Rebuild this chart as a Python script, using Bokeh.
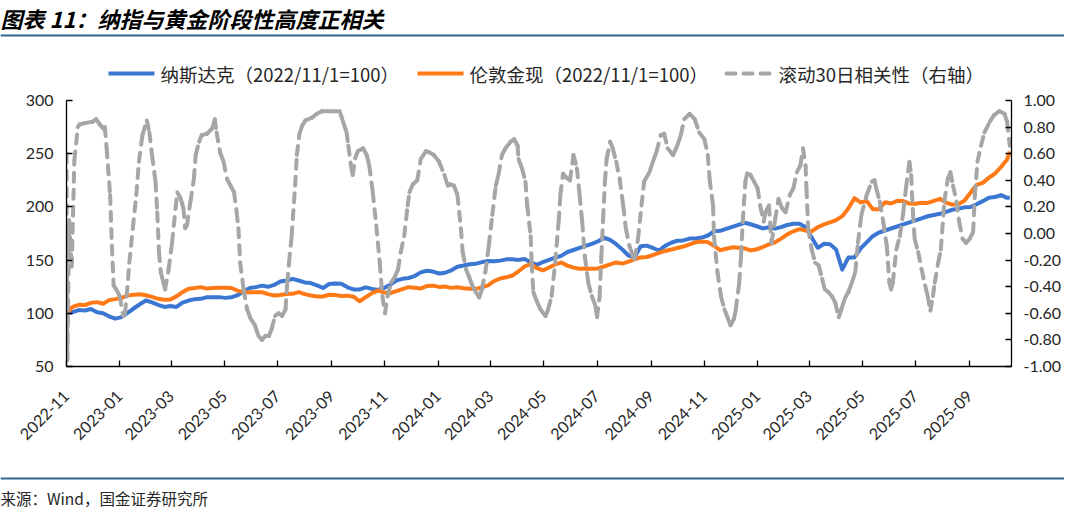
import pandas as pd
from bokeh.plotting import figure
from bokeh.layouts import column
from bokeh.models import (Range1d, LinearAxis, FixedTicker, NumeralTickFormatter,
                          DatetimeTickFormatter, ColumnDataSource)
from bokeh.core.properties import value
from bokeh.embed import file_html
from bokeh.resources import INLINE

# ---------------- data ----------------
title_text = "图表 11：纳指与黄金阶段性高度正相关"
source_text = "来源：Wind，国金证券研究所"
name_nasdaq = "纳斯达克（2022/11/1=100）"
name_gold = "伦敦金现（2022/11/1=100）"
name_corr = "滚动30日相关性（右轴）"

# weekly observation dates (2022-11-01 + 7k) and the last observation
idx_dates = list(pd.date_range("2022-11-01", periods=155, freq="7D")) + [pd.Timestamp("2025-10-17")]

nasdaq = [100, 101, 103, 102.6, 104, 101, 100, 97, 95, 96.4,
          100.5, 104.5, 108.5, 112, 110.2, 108, 106, 106.8, 106, 110,
          112, 113.3, 113.6, 115.2, 115.2, 115.2, 114.5, 115, 117, 120.7,
          123.8, 124.6, 126, 124.9, 126.7, 129.8, 130.8, 132.3,
          130.8, 129, 128.4, 126.2, 123.8, 127.5, 128.1, 127.7, 124.4, 122.4,
          122.4, 124.4, 122.9, 121.9, 123.8, 126.9, 130.8, 132.4, 133.2, 135,
          138.5, 140, 139.2, 137.4, 138.1, 140.4, 143.8, 144.9, 146.1, 146.5,
          148.1, 149.1, 149, 149.5, 150.7, 150.7, 150.2, 151.1, 148,
          145.5,
          148.2, 150.2, 152.2, 154, 157.6, 159.5, 161.4, 163.3, 165.3, 167.5,
          171, 169, 165, 160, 154.3, 152.6, 163, 163.6, 161.4, 159,
          163.4, 166.3, 168.2, 168.5, 170.2, 170.3, 171.2, 173.1, 177, 177.5,
          179.4, 181.3, 183.2, 185.1, 183.7, 181.8, 179.8, 180.9, 179.6,
          181, 183, 184.1, 184.1, 181, 171.3, 161.5, 165.3, 165, 160,
          141, 152.4, 152.5, 160.9, 166.6, 172.5, 175.9, 177.8, 179.7, 181.6,
          183.6, 185.4, 187.4, 189.3, 191.2, 192.4, 193.5, 195.4, 197.3, 198.2,
          199.6, 199.9, 202.5, 205.4, 208.7, 209.2, 211.1, 208.5,
          208.5]

gold = [100, 106, 108, 107.7, 109.8, 110.5, 109, 112.4, 113.3, 114.5,
        116.6, 117.5, 117.9, 117, 115.4, 113.6, 112.7, 112.9, 115.9, 119.9,
        123, 123.7, 124.6, 123.2, 123.7, 124, 124, 123.8, 121.3, 119.9,
        119.9, 119.9, 119.9, 118, 116.7, 117.2, 118.2, 118.3,
        119.9, 118, 116.7, 115.7, 115.8, 117.4, 117.1, 116.3, 116.6, 115.6,
        111.3, 115.2, 119, 121.4, 119.6, 118.9, 120.9, 122.8, 124.6, 124.1,
        123.4, 125.6, 126, 124.8, 125.1, 123.9, 124.5, 123.5, 123, 123,
        124.4, 126.2, 130.3, 132.7, 133.8, 135.5, 139.5, 144, 146.5,
        142.5,
        140.4, 143, 145.9, 147.7, 144.8, 142.9, 141.8, 142.2, 141.8, 142.1,
        144, 146, 147.8, 146.7, 148.5, 150.6, 152.5, 152.9, 154.7, 156.7,
        158.6, 159.9, 161.4, 162.8, 164.7, 166.7, 167.5, 166.9, 163.5, 159.3,
        160.6, 162, 161.7, 161.1, 159.1, 160.2, 162.3, 164.7, 166.7,
        170.2, 174.2, 177.1, 179.1, 177.8, 176.9, 180.9, 183.6, 185.5, 187.6,
        191.3, 198.5, 208.2, 204.2, 205.7, 197.9, 197.8, 204.4, 203.2, 205.7,
        205.5, 203.1, 202.9, 203.9, 203.7, 205.7, 207.6, 204, 202.2, 202.5,
        205.8, 213.3, 220.7, 222.6, 227.4, 231.3, 237.5, 244.6,
        252]

corr_dates = ["2022-11-01", "2022-11-02", "2022-11-04", "2022-11-07", "2022-11-10", "2022-11-14",
              "2022-11-16", "2022-11-22", "2022-12-01", "2022-12-05", "2022-12-09", "2022-12-13",
              "2022-12-15", "2022-12-17", "2022-12-21", "2022-12-23", "2022-12-25", "2022-12-28",
              "2023-01-01", "2023-01-05", "2023-01-07", "2023-01-09", "2023-01-12", "2023-01-16",
              "2023-01-20", "2023-01-23", "2023-01-27", "2023-02-01", "2023-02-04", "2023-02-07",
              "2023-02-11", "2023-02-13", "2023-02-15", "2023-02-17", "2023-02-20", "2023-02-22",
              "2023-02-26", "2023-03-02", "2023-03-06", "2023-03-08", "2023-03-12", "2023-03-15",
              "2023-03-17", "2023-03-19", "2023-03-23", "2023-03-27", "2023-03-29", "2023-04-02",
              "2023-04-05", "2023-04-11", "2023-04-17", "2023-04-20", "2023-04-22", "2023-04-26",
              "2023-04-30", "2023-05-04", "2023-05-08", "2023-05-12", "2023-05-15", "2023-05-17",
              "2023-05-19", "2023-05-23", "2023-05-27", "2023-05-31", "2023-06-05", "2023-06-09",
              "2023-06-13", "2023-06-17", "2023-06-21", "2023-06-24", "2023-06-28", "2023-07-02",
              "2023-07-06", "2023-07-10", "2023-07-12", "2023-07-14", "2023-07-17", "2023-07-21",
              "2023-07-23", "2023-07-26", "2023-07-29", "2023-08-02", "2023-08-09", "2023-08-15",
              "2023-08-21", "2023-08-28", "2023-09-10", "2023-09-14", "2023-09-18", "2023-09-20",
              "2023-09-23", "2023-09-25", "2023-09-28", "2023-10-01", "2023-10-07", "2023-10-11",
              "2023-10-14", "2023-10-18", "2023-10-22", "2023-10-26", "2023-10-29", "2023-11-01",
              "2023-11-04", "2023-11-08", "2023-11-12", "2023-11-16", "2023-11-19", "2023-11-23",
              "2023-11-27", "2023-11-29", "2023-12-03", "2023-12-08", "2023-12-12", "2023-12-18",
              "2023-12-22", "2023-12-27", "2024-01-02", "2024-01-08", "2024-01-12", "2024-01-15",
              "2024-01-19", "2024-01-23", "2024-01-27", "2024-01-29", "2024-02-02", "2024-02-05",
              "2024-02-09", "2024-02-13", "2024-02-17", "2024-02-20", "2024-02-24", "2024-02-28",
              "2024-03-03", "2024-03-07", "2024-03-10", "2024-03-14", "2024-03-18", "2024-03-24",
              "2024-03-28", "2024-04-01", "2024-04-02", "2024-04-06", "2024-04-10", "2024-04-12",
              "2024-04-16", "2024-04-17", "2024-04-19", "2024-04-23", "2024-04-27", "2024-05-03",
              "2024-05-06", "2024-05-10", "2024-05-14", "2024-05-18", "2024-05-20", "2024-05-23",
              "2024-05-27", "2024-05-31", "2024-06-04", "2024-06-08", "2024-06-11", "2024-06-14",
              "2024-06-17", "2024-06-21", "2024-06-25", "2024-06-29", "2024-07-01", "2024-07-04",
              "2024-07-06", "2024-07-08", "2024-07-10", "2024-07-12", "2024-07-16", "2024-07-19",
              "2024-07-23", "2024-07-27", "2024-07-31", "2024-08-03", "2024-08-07", "2024-08-11",
              "2024-08-13", "2024-08-17", "2024-08-21", "2024-08-24", "2024-08-30", "2024-09-03",
              "2024-09-07", "2024-09-12", "2024-09-16", "2024-09-20", "2024-09-26", "2024-10-01",
              "2024-10-05", "2024-10-09", "2024-10-15", "2024-10-21", "2024-10-26", "2024-11-01",
              "2024-11-05", "2024-11-07", "2024-11-11", "2024-11-12", "2024-11-16", "2024-11-20",
              "2024-11-24", "2024-11-28", "2024-12-01", "2024-12-05", "2024-12-07", "2024-12-11",
              "2024-12-13", "2024-12-15", "2024-12-18", "2024-12-20", "2024-12-24", "2024-12-28",
              "2025-01-01", "2025-01-04", "2025-01-08", "2025-01-10", "2025-01-14", "2025-01-17",
              "2025-01-21", "2025-01-25", "2025-01-29", "2025-02-02", "2025-02-07", "2025-02-11",
              "2025-02-15", "2025-02-19", "2025-02-22", "2025-02-25", "2025-02-26", "2025-02-28",
              "2025-03-04", "2025-03-08", "2025-03-12", "2025-03-16", "2025-03-19", "2025-03-23",
              "2025-03-27", "2025-03-31", "2025-04-04", "2025-04-07", "2025-04-11", "2025-04-15",
              "2025-04-19", "2025-04-23", "2025-04-26", "2025-04-30", "2025-05-06", "2025-05-12",
              "2025-05-15", "2025-05-17", "2025-05-21", "2025-05-25", "2025-05-29", "2025-06-01",
              "2025-06-03", "2025-06-05", "2025-06-09", "2025-06-13", "2025-06-17", "2025-06-20",
              "2025-06-24", "2025-06-26", "2025-06-28", "2025-06-30", "2025-07-04", "2025-07-08",
              "2025-07-12", "2025-07-15", "2025-07-18", "2025-07-21", "2025-07-23", "2025-07-27",
              "2025-07-30", "2025-08-03", "2025-08-07", "2025-08-10", "2025-08-13", "2025-08-17",
              "2025-08-20", "2025-08-24", "2025-08-28", "2025-09-01", "2025-09-05", "2025-09-07",
              "2025-09-10", "2025-09-14", "2025-09-18", "2025-09-24", "2025-09-29", "2025-10-05",
              "2025-10-11", "2025-10-14", "2025-10-17"]

corr_vals = [0.60, -0.95, 0.10, -0.25, 0.55, 0.80,
             0.82, 0.83, 0.84, 0.86, 0.82, 0.79,
             0.80, 0.64, 0.29, -0.09, -0.39, -0.42,
             -0.47, -0.62, -0.60, -0.47, -0.22, 0.04,
             0.29, 0.54, 0.74, 0.85, 0.76, 0.59,
             0.39, 0.16, -0.14, -0.29, -0.37, -0.42,
             -0.27, -0.07, 0.19, 0.31, 0.26, 0.19,
             0.04, 0.06, 0.24, 0.41, 0.59, 0.69,
             0.74, 0.75, 0.79, 0.86, 0.76, 0.61,
             0.54, 0.41, 0.36, 0.31, 0.16, 0.04,
             -0.22, -0.42, -0.57, -0.64, -0.69, -0.77,
             -0.80, -0.77, -0.77, -0.72, -0.62, -0.60,
             -0.62, -0.57, -0.37, -0.22, -0.02, 0.36,
             0.59, 0.75, 0.81, 0.85, 0.87, 0.90,
             0.92, 0.92, 0.92, 0.84, 0.76, 0.66,
             0.51, 0.44, 0.57, 0.62, 0.64, 0.59,
             0.51, 0.31, 0.06, -0.22, -0.47, -0.60,
             -0.47, -0.37, -0.33, -0.27, -0.14, -0.02,
             0.21, 0.31, 0.37, 0.40, 0.56, 0.62,
             0.61, 0.59, 0.54, 0.44, 0.36, 0.37,
             0.36, 0.29, 0.04, -0.14, -0.27, -0.32,
             -0.39, -0.44, -0.48, -0.42, -0.29, -0.09,
             0.14, 0.36, 0.44, 0.59, 0.64, 0.69,
             0.71, 0.66, 0.56, 0.49, 0.39, 0.21,
             -0.02, -0.22, -0.44, -0.51, -0.57, -0.62,
             -0.57, -0.47, -0.22, 0.09, 0.29, 0.45,
             0.42, 0.40, 0.59, 0.49, 0.29, 0.09,
             -0.17, -0.37, -0.47, -0.54, -0.63, -0.47,
             -0.17, 0.11, 0.39, 0.56, 0.69, 0.64,
             0.54, 0.41, 0.21, 0.04, -0.09, -0.17,
             -0.19, -0.04, 0.21, 0.39, 0.46, 0.54,
             0.61, 0.74, 0.75, 0.64, 0.59, 0.66,
             0.74, 0.86, 0.90, 0.86, 0.76, 0.71,
             0.59, 0.41, 0.21, -0.02, -0.29, -0.47,
             -0.57, -0.64, -0.69, -0.64, -0.57, -0.37,
             -0.17, 0.09, 0.39, 0.45, 0.44, 0.39,
             0.34, 0.21, 0.09, 0.16, 0.21, -0.07,
             0.10, 0.26, 0.19, 0.16, 0.29, 0.34,
             0.46, 0.51, 0.64, 0.51, 0.34, 0.04,
             -0.12, -0.22, -0.24, -0.34, -0.42, -0.44,
             -0.47, -0.52, -0.63, -0.57, -0.49, -0.44,
             -0.37, -0.29, -0.07, 0.14, 0.29, 0.39,
             0.40, 0.34, 0.24, 0.09, -0.09, -0.37,
             -0.42, -0.37, -0.12, -0.02, 0.16, 0.34,
             0.54, 0.44, 0.16, -0.04, -0.14, -0.27,
             -0.39, -0.47, -0.58, -0.47, -0.37, -0.22,
             -0.12, 0.24, 0.41, 0.46, 0.36, 0.24,
             0.09, -0.04, -0.07, -0.04, 0.01, 0.29,
             0.54, 0.66, 0.76, 0.84, 0.89, 0.92,
             0.90, 0.84, 0.66]

x_tick_labels = ["2022-11", "2023-01", "2023-03", "2023-05", "2023-07", "2023-09",
                 "2023-11", "2024-01", "2024-03", "2024-05", "2024-07", "2024-09",
                 "2024-11", "2025-01", "2025-03", "2025-05", "2025-07", "2025-09"]
left_ticks = [50, 100, 150, 200, 250, 300]
right_ticks = [-1.0, -0.8, -0.6, -0.4, -0.2, 0.0, 0.2, 0.4, 0.6, 0.8, 1.0]
x_start, x_end = "2022-11-01", "2025-10-19"

# ---------------- styles / layout ----------------
C_BLUE = "#3B77D2"
C_ORANGE = "#FF7A17"
C_GRAY = "#A6A6A6"
C_RULE = "#31658F"
C_TEXT = "#262626"
CJK = "Noto Sans CJK SC"
NUM = "Lato"
GRAY_DASH = "9 8"

W = 1064
HEAD_H = 90
FL, FW, BR = 66, 945, 53
FT, FH, BB = 10, 266, 104
FOOT_H = 40


def canvas_fig(h):
    f = figure(frame_width=W, frame_height=h, min_border=0,
               x_range=Range1d(0, W), y_range=Range1d(h, 0),
               x_axis_location=None, y_axis_location=None,
               output_backend="svg", toolbar_location=None, frame_align=False)
    f.outline_line_color = None
    f.xgrid.visible = False
    f.ygrid.visible = False
    f.border_fill_color = "white"
    return f


# ---------------- main chart ----------------
p = figure(frame_width=FW, frame_height=FH, x_axis_type="datetime",
           output_backend="svg", toolbar_location=None, frame_align=False,
           min_border_left=FL, min_border_right=BR, min_border_top=FT, min_border_bottom=BB,
           x_range=Range1d(pd.Timestamp(x_start), pd.Timestamp(x_end)),
           y_range=Range1d(left_ticks[0], left_ticks[-1]))
p.extra_y_ranges = {"corr": Range1d(right_ticks[0], right_ticks[-1])}
p.outline_line_color = None
p.xgrid.visible = False
p.ygrid.visible = False
p.background_fill_color = "white"
p.border_fill_color = "white"

src = ColumnDataSource(dict(date=idx_dates, nasdaq=nasdaq, gold=gold))
cd = pd.to_datetime(corr_dates)
seg = ColumnDataSource(dict(x0=cd[:-1], y0=corr_vals[:-1], x1=cd[1:], y1=corr_vals[1:]))

p.line("date", "nasdaq", source=src, line_color=C_BLUE, line_width=4, line_join="round")
p.line("date", "gold", source=src, line_color=C_ORANGE, line_width=4, line_join="round")
p.segment("x0", "y0", "x1", "y1", source=seg, y_range_name="corr",
          line_color=C_GRAY, line_width=4, line_dash=GRAY_DASH, line_cap="round")

xa = p.xaxis[0]
xa.ticker = FixedTicker(ticks=[pd.Timestamp(s + "-01").value / 1e6 for s in x_tick_labels])
fmt = "%Y-%m"
xa.formatter = DatetimeTickFormatter(milliseconds=fmt, seconds=fmt, minsec=fmt, minutes=fmt,
                                     hourmin=fmt, hours=fmt, days=fmt, months=fmt, years=fmt)
xa.major_label_orientation = 0.785398
xa.major_label_standoff = 27

ya = p.yaxis[0]
ya.ticker = FixedTicker(ticks=left_ticks)

ra = LinearAxis(y_range_name="corr", ticker=FixedTicker(ticks=right_ticks),
                formatter=NumeralTickFormatter(format="0.00"))
p.add_layout(ra, "right")

for ax in (xa, ya, ra):
    ax.axis_line_color = "#000000"
    ax.axis_line_width = 1.3
    ax.major_tick_line_color = "#000000"
    ax.major_tick_line_width = 1.3
    ax.major_tick_in = 6
    ax.major_tick_out = 0
    ax.minor_tick_line_color = None
    ax.major_label_text_font = NUM
    ax.major_label_text_font_size = "16px"
    ax.major_label_text_color = C_TEXT
ya.major_label_standoff = 13
ra.major_label_standoff = 12

# ---------------- header: title, rule, legend ----------------
head = canvas_fig(HEAD_H)
head.text(x=[0], y=[17], text=[title_text], text_font=value(CJK), text_font_size="22px",
          text_font_style="bold italic", text_color="#000000", text_baseline="middle")
head.segment(x0=[0], y0=[35], x1=[W], y1=[35], line_color=C_RULE, line_width=2)

leg_x = [108, 417, 726]
leg_names = [name_nasdaq, name_gold, name_corr]
leg_colors = [C_BLUE, C_ORANGE, C_GRAY]
leg_dash = ["solid", "solid", GRAY_DASH]
for lx, nm, col, dsh in zip(leg_x, leg_names, leg_colors, leg_dash):
    head.segment(x0=[lx], y0=[73], x1=[lx + 46], y1=[73], line_color=col, line_width=4,
                 line_dash=dsh, line_cap="round" if dsh != "solid" else "butt")
    head.text(x=[lx + 52], y=[73], text=[nm], text_font=value(CJK), text_font_size="18.5px",
              text_color=C_TEXT, text_baseline="middle")

# ---------------- footer: rule, source ----------------
foot = canvas_fig(FOOT_H)
foot.segment(x0=[0], y0=[8], x1=[W], y1=[8], line_color=C_RULE, line_width=2)
foot.text(x=[0], y=[27], text=[source_text], text_font=value(CJK), text_font_size="15.5px",
          text_color=C_TEXT, text_baseline="middle")

layout = column(head, p, foot, spacing=0)
open("out.html", "w").write(file_html(layout, INLINE))
